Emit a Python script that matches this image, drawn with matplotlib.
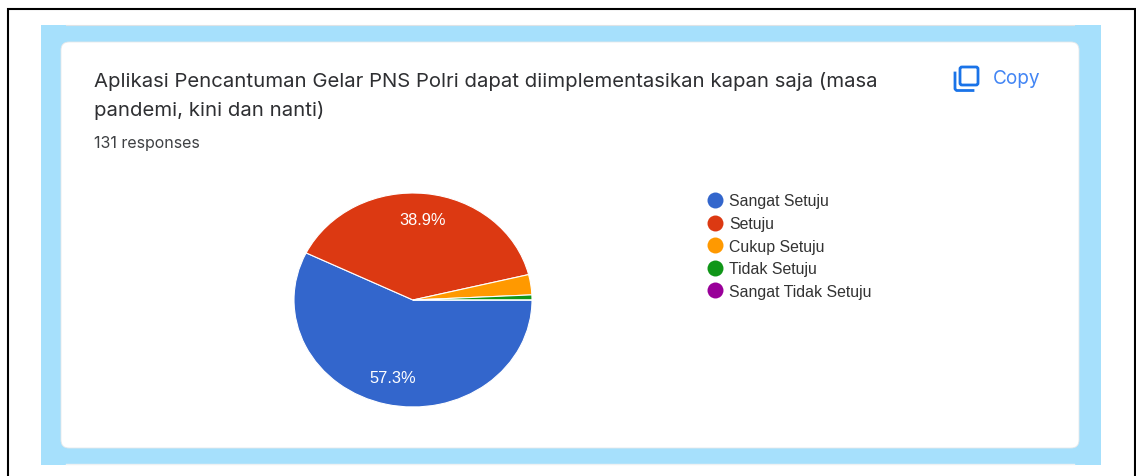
import matplotlib
matplotlib.use("Agg")
import matplotlib.pyplot as plt
from matplotlib.lines import Line2D
from matplotlib.patches import FancyBboxPatch, Rectangle

W, H = 1136, 477

# data
labels = ["Sangat Setuju", "Setuju", "Cukup Setuju", "Tidak Setuju", "Sangat Tidak Setuju"]
responses = [75, 51, 4, 1, 0]
colors = ["#3366cc", "#dc3912", "#ff9900", "#109618", "#990099"]
title_lines = ["Aplikasi Pencantuman Gelar PNS Polri dapat diimplementasikan kapan saja (masa",
               "pandemi, kini dan nanti)"]
subtitle = "131 responses"

fig = plt.figure(figsize=(W / 100, H / 100), dpi=100)

# page background, in pixel coordinates
bg = fig.add_axes([0, 0, 1, 1])
bg.set_xlim(0, W)
bg.set_ylim(H - 1, -1)
bg.axis("off")

bg.plot([8, 8, 1135, 1135], [H, 9, 9, H], color="black", lw=1.5, solid_joinstyle="miter")
bg.add_patch(Rectangle((41, 25), 1060, 440, fc="#a6e0fc", ec="none"))
bg.plot([66, 1074], [25.5, 25.5], color="#dfe3e6", lw=0.8)
bg.plot([66, 1074], [464.5, 464.5], color="#eef1f3", lw=1.0)
bg.add_patch(FancyBboxPatch((69, 50), 1002, 390, boxstyle="round,pad=8,rounding_size=8",
                            fc="white", ec="#e6e8ea", lw=0.6))

# title block
bg.text(94, 80.5, title_lines[0], fontsize=14.63, family="Inter", color="#2e2f32", va="center")
bg.text(94, 109.5, title_lines[1], fontsize=14.63, family="Inter", color="#2e2f32", va="center")
bg.text(94, 142.5, subtitle, fontsize=11.5, family="Inter", color="#3f4144", va="center")

# copy icon
blue = "#1a73e8"
bg.add_patch(FancyBboxPatch((960, 67), 18, 18, boxstyle="round,pad=0,rounding_size=2",
                            fc="none", ec=blue, lw=2))
bg.plot([955, 955, 956.5, 973], [73, 89, 90.5, 90.5], color=blue, lw=2)
bg.text(993, 78, "Copy", fontsize=13.7, family="Inter", color="#4285f4", va="center")

# pie is an ellipse in the reference: 238 px wide, 214 px tall, centred at (413, 300)
cx, cy, rx, ry = 413, 301, 119, 107
ax = fig.add_axes([(cx - 1.25 * rx) / W, 1 - (cy + 1.25 * ry) / H, 2.5 * rx / W, 2.5 * ry / H])
wedges, texts, autotexts = ax.pie(responses, colors=colors, startangle=0, counterclock=False,
                                  autopct=lambda p: f"{p:.1f}%" if p > 5 else "", pctdistance=0.75,
                                  wedgeprops={"edgecolor": "white", "linewidth": 0.8})
ax.set_aspect("auto")
ax.set_xlim(-1.25, 1.25)
ax.set_ylim(-1.25, 1.25)
for t in autotexts:
    t.set_color("white")
    t.set_fontsize(11.8)
    t.set_family("Liberation Sans")
    t.set_y(t.get_position()[1] + 0.01)

handles = [Line2D([], [], marker="o", ls="none", ms=11.5, color=c, mec="none") for c in colors]
fig.legend(handles, labels, loc="upper left", bbox_to_anchor=(702 / W, 1 - 194.5 / H), frameon=False,
           prop={"family": "Liberation Sans", "size": 11.4}, labelcolor="#333333", borderpad=0,
           borderaxespad=0, labelspacing=0.48, handletextpad=0.12, handlelength=1.6)

fig.savefig("out.png", dpi=100)
